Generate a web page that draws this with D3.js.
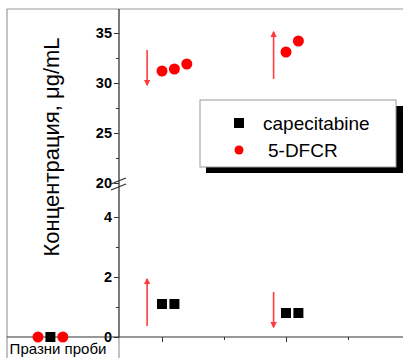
<!DOCTYPE html>
<html><head><meta charset="utf-8">
<script src="https://cdn.jsdelivr.net/npm/d3@7"></script>
<style>html,body{margin:0;padding:0;background:#fff;}svg{display:block;font-family:"Liberation Sans",Arial,sans-serif;}</style>
</head><body>
<svg id="c" width="403" height="358"></svg>
<script>
// ---- data ----
const seriesNames = ["capecitabine", "5-DFCR"];
const capX = [0.1, 1.0, 1.1, 2.0, 2.1];
const capY = [0, 1.1, 1.1, 0.8, 0.8];
const dfcrX = [0, 0.2, 1.0, 1.1, 1.2, 2.0, 2.1];
const dfcrY = [0, 0, 31.2, 31.4, 31.9, 33.1, 34.2];
// arrows: x, from, to, panel
const arrowX = [0.88, 1.9, 0.88, 1.9];
const arrowFrom = [33.3, 30.4, 0.37, 1.5];
const arrowTo = [29.8, 35.1, 1.93, 0.33];
const arrowPanel = ["upper", "upper", "lower", "lower"];
const upperTicks = [20, 25, 30, 35];
const upperMinor = [22.5, 27.5, 32.5];
const lowerTicks = [0, 2, 4];
const lowerMinor = [1, 3];
const xMajor = [1, 2];
const xMinor = [1.5, 2.5];
const yLabel = "Концентрация, μg/mL";
const blankLabel = "Празни проби";

const svg = d3.select("#c");
const x = d3.scaleLinear().domain([0, 3]).range([38, 410]);
const yU = d3.scaleLinear().domain([20, 37.4]).range([183, 9]);
const yL = d3.scaleLinear().domain([0, 4.9]).range([337, 190]);
const axX = 119;
const yOf = (v, panel) => panel === "upper" ? yU(v) : yL(v);
const panelOf = v => v >= 10 ? "upper" : "lower";
const fmt = d3.format("d");

// frame lines
svg.append("line").attr("x1", 7).attr("x2", 403).attr("y1", 9).attr("y2", 9).attr("stroke", "#9a9a9a").attr("stroke-width", 1.2);
svg.append("line").attr("x1", 7).attr("x2", 7).attr("y1", 9).attr("y2", 358).attr("stroke", "#9a9a9a").attr("stroke-width", 1.2);
svg.append("line").attr("x1", axX).attr("x2", axX).attr("y1", 337).attr("y2", 358).attr("stroke", "#9a9a9a").attr("stroke-width", 1.2);

// y axes
const tickFont = g => g.selectAll("text").attr("font-size", 14.5).attr("font-weight", "bold").attr("fill", "#000").attr("font-family", "Liberation Sans, Arial, sans-serif");
const gU = svg.append("g").attr("transform", `translate(${axX},0)`)
  .call(d3.axisLeft(yU).tickValues(upperTicks).tickSize(5).tickPadding(2).tickFormat(fmt));
gU.call(tickFont);
svg.append("g").attr("transform", `translate(${axX},0)`)
  .call(d3.axisLeft(yU).tickValues(upperMinor).tickSize(3).tickFormat(""));
const gL = svg.append("g").attr("transform", `translate(${axX},0)`)
  .call(d3.axisLeft(yL).tickValues(lowerTicks).tickSize(5).tickPadding(2).tickFormat(fmt));
gL.call(tickFont);
svg.append("g").attr("transform", `translate(${axX},0)`)
  .call(d3.axisLeft(yL).tickValues(lowerMinor).tickSize(3).tickFormat(""));
svg.selectAll(".domain").remove();
svg.selectAll(".tick line").attr("stroke", "#333");
// y axis line
svg.append("line").attr("x1", axX).attr("x2", axX).attr("y1", 9).attr("y2", 337).attr("stroke", "#333").attr("stroke-width", 1.3);
// break marks
const bk = svg.append("g").attr("stroke", "#333").attr("stroke-width", 1.2);
bk.append("line").attr("x1", axX - 8).attr("y1", yU(20) + 1).attr("x2", axX + 7).attr("y2", yU(20) - 5);
bk.append("line").attr("x1", axX - 8).attr("y1", yU(20) + 7).attr("x2", axX + 7).attr("y2", yU(20) + 1);

// x axis
const gX = svg.append("g").attr("transform", "translate(0,337)");
gX.append("g").call(d3.axisBottom(x).tickValues(xMajor).tickSize(5).tickFormat(""));
gX.append("g").call(d3.axisBottom(x).tickValues(xMinor).tickSize(3).tickFormat(""));
gX.selectAll(".domain").remove();
gX.selectAll(".tick line").attr("stroke", "#333");
svg.append("line").attr("x1", 7).attr("x2", 403).attr("y1", 337).attr("y2", 337).attr("stroke", "#333").attr("stroke-width", 1.2);

// arrows
svg.append("defs").append("marker").attr("id", "ah").attr("viewBox", "0 0 10 10")
  .attr("refX", 8).attr("refY", 5).attr("markerWidth", 4).attr("markerHeight", 4).attr("orient", "auto")
  .append("path").attr("d", "M0,0L10,5L0,10z").attr("fill", "#ff3b3b");
arrowX.forEach((ax, i) => {
  svg.append("line").attr("x1", x(ax)).attr("x2", x(ax))
    .attr("y1", yOf(arrowFrom[i], arrowPanel[i])).attr("y2", yOf(arrowTo[i], arrowPanel[i]))
    .attr("stroke", "#ff3b3b").attr("stroke-width", 1.6).attr("marker-end", "url(#ah)");
});

// points
svg.selectAll("rect.cap").data(capX).join("rect").attr("class", "cap")
  .attr("x", (d) => x(d) - 5).attr("y", (d, i) => yOf(capY[i], panelOf(capY[i])) - 5)
  .attr("width", 10).attr("height", 10).attr("fill", "#000");
svg.selectAll("circle.df").data(dfcrX).join("circle").attr("class", "df")
  .attr("cx", d => x(d)).attr("cy", (d, i) => yOf(dfcrY[i], panelOf(dfcrY[i])))
  .attr("r", 5.5).attr("fill", "#ff0000");

// y label
svg.append("text").attr("transform", "translate(59,147) rotate(-90)")
  .attr("text-anchor", "middle").attr("font-size", 22).attr("fill", "#000").text(yLabel);
// blank label
svg.append("text").attr("x", 58).attr("y", 354).attr("text-anchor", "middle")
  .attr("font-size", 15).attr("fill", "#000").text(blankLabel);

// legend
const lg = svg.append("g");
lg.append("rect").attr("x", 206).attr("y", 106).attr("width", 197).attr("height", 67).attr("fill", "#000");
lg.append("rect").attr("x", 200).attr("y", 100).attr("width", 196).attr("height", 67).attr("fill", "#fff").attr("stroke", "#999").attr("stroke-width", 1);
lg.append("rect").attr("x", 234).attr("y", 118).attr("width", 10).attr("height", 10).attr("fill", "#000");
lg.append("circle").attr("cx", 239).attr("cy", 150).attr("r", 4.5).attr("fill", "#ff0000");
lg.append("text").attr("x", 263).attr("y", 130).attr("font-size", 19).attr("fill", "#000").text(seriesNames[0]);
lg.append("text").attr("x", 268).attr("y", 157).attr("font-size", 19).attr("fill", "#000").text(seriesNames[1]);
</script>
</body></html>
